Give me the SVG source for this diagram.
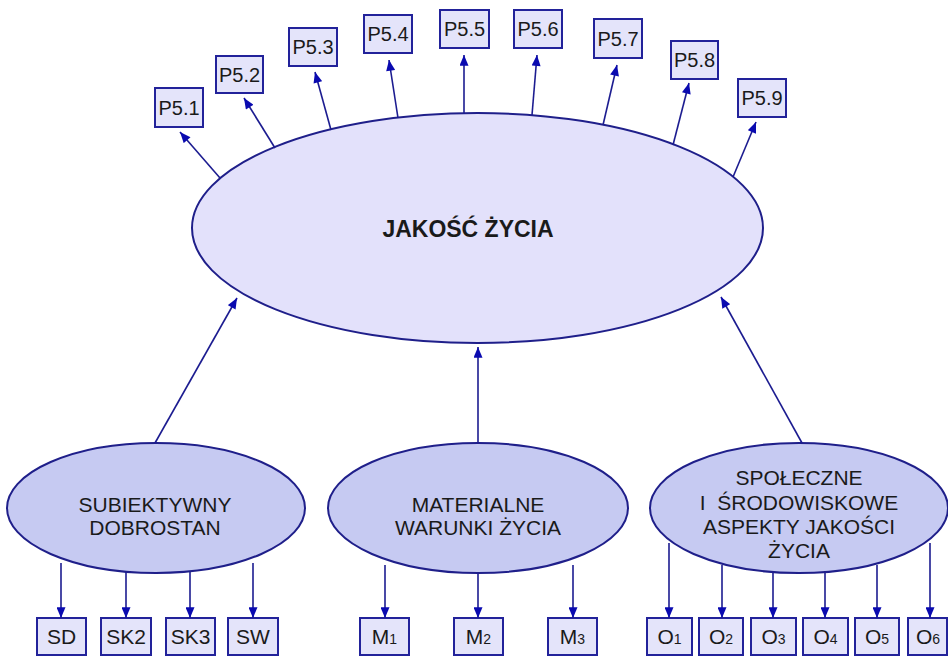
<svg xmlns="http://www.w3.org/2000/svg" width="948" height="656" viewBox="0 0 948 656">
<defs>
<style>
.main{fill:#e3e1fb;stroke:#1f1f8a;stroke-width:2}
.sub{fill:#c6caf2;stroke:#1f1f8a;stroke-width:2}
.box{fill:#e4e4fa;stroke:#22229a;stroke-width:2}
.t{font-family:"Liberation Sans",Arial,sans-serif;fill:#1a1a1a;text-anchor:middle}
.bt{font-size:20px}
.lt{font-size:21px}
.ot{font-size:21px}
.st{font-size:14px}
.c line{stroke:#1c1c90;stroke-width:1.6;marker-end:url(#ah)}
</style>
<marker id="ah" viewBox="0 0 12 10" refX="12" refY="5" markerWidth="12" markerHeight="9" markerUnits="userSpaceOnUse" orient="auto">
<path d="M0,0 L12,5 L0,10 z" fill="#0a0ab0"/>
</marker>
</defs>
<rect width="948" height="656" fill="#ffffff"/>

<g id="jakosc">
<ellipse class="main" cx="477.5" cy="228" rx="285.5" ry="115"/>
<text class="t" x="468" y="237" font-size="23" font-weight="bold">JAKOŚĆ ŻYCIA</text>
</g>

<g id="subiektywny">
<ellipse class="sub" cx="156" cy="508" rx="149" ry="65"/>
<text class="t lt" x="155" y="512">SUBIEKTYWNY</text>
<text class="t lt" x="155" y="535">DOBROSTAN</text>
</g>
<g id="materialne">
<ellipse class="sub" cx="478" cy="508" rx="150" ry="65"/>
<text class="t lt" x="478" y="512">MATERIALNE</text>
<text class="t lt" x="478" y="535">WARUNKI ŻYCIA</text>
</g>
<g id="spoleczne">
<ellipse class="sub" cx="799" cy="508" rx="149" ry="65"/>
<text class="t lt" x="799" y="485">SPOŁECZNE</text>
<text class="t lt" x="799" y="510" xml:space="preserve">I  ŚRODOWISKOWE</text>
<text class="t lt" x="799" y="534">ASPEKTY JAKOŚCI</text>
<text class="t lt" x="799" y="558">ŻYCIA</text>
</g>

<g id="p51"><rect class="box" x="155" y="88" width="48" height="39"/><text class="t bt" x="179" y="115">P5.1</text></g>
<g id="p52"><rect class="box" x="216" y="56" width="47" height="37"/><text class="t bt" x="239.5" y="82">P5.2</text></g>
<g id="p53"><rect class="box" x="289" y="28" width="48" height="38"/><text class="t bt" x="313" y="54">P5.3</text></g>
<g id="p54"><rect class="box" x="364" y="15" width="48" height="38"/><text class="t bt" x="388" y="41">P5.4</text></g>
<g id="p55"><rect class="box" x="440" y="10" width="49" height="38"/><text class="t bt" x="464.5" y="36">P5.5</text></g>
<g id="p56"><rect class="box" x="514" y="10" width="48" height="38"/><text class="t bt" x="538" y="36">P5.6</text></g>
<g id="p57"><rect class="box" x="594" y="19" width="48" height="39"/><text class="t bt" x="618" y="46">P5.7</text></g>
<g id="p58"><rect class="box" x="671" y="41" width="47" height="38"/><text class="t bt" x="694.5" y="67">P5.8</text></g>
<g id="p59"><rect class="box" x="738" y="79" width="48" height="38"/><text class="t bt" x="762" y="105">P5.9</text></g>

<g id="sd"><rect class="box" x="37" y="618" width="49" height="37"/><text class="t ot" x="61.5" y="644">SD</text></g>
<g id="sk2"><rect class="box" x="101" y="618" width="50" height="37"/><text class="t ot" x="126" y="644">SK2</text></g>
<g id="sk3"><rect class="box" x="166" y="618" width="49" height="37"/><text class="t ot" x="190.5" y="644">SK3</text></g>
<g id="sw"><rect class="box" x="228" y="618" width="50" height="37"/><text class="t ot" x="253" y="644">SW</text></g>

<g id="m1"><rect class="box" x="360" y="618" width="49" height="37"/><text class="t ot" x="384.5" y="644">M<tspan class="st">1</tspan></text></g>
<g id="m2"><rect class="box" x="454" y="618" width="49" height="37"/><text class="t ot" x="478.5" y="644">M<tspan class="st">2</tspan></text></g>
<g id="m3"><rect class="box" x="548" y="618" width="49" height="37"/><text class="t ot" x="572.5" y="644">M<tspan class="st">3</tspan></text></g>

<g id="o1"><rect class="box" x="647" y="618" width="45" height="37"/><text class="t ot" x="669.5" y="644">O<tspan class="st">1</tspan></text></g>
<g id="o2"><rect class="box" x="699" y="618" width="44" height="37"/><text class="t ot" x="721" y="644">O<tspan class="st">2</tspan></text></g>
<g id="o3"><rect class="box" x="751" y="618" width="45" height="37"/><text class="t ot" x="773.5" y="644">O<tspan class="st">3</tspan></text></g>
<g id="o4"><rect class="box" x="803" y="618" width="45" height="37"/><text class="t ot" x="825.5" y="644">O<tspan class="st">4</tspan></text></g>
<g id="o5"><rect class="box" x="855" y="618" width="44" height="37"/><text class="t ot" x="877" y="644">O<tspan class="st">5</tspan></text></g>
<g id="o6"><rect class="box" x="908" y="618" width="39" height="37"/><text class="t ot" x="928" y="644">O<tspan class="st">6</tspan></text></g>

<g id="connectors" class="c">
<line x1="220" y1="178" x2="180" y2="132"/>
<line x1="275" y1="148" x2="244" y2="98"/>
<line x1="331" y1="130" x2="315" y2="72"/>
<line x1="398" y1="118" x2="389" y2="60"/>
<line x1="464" y1="114" x2="464" y2="55"/>
<line x1="532" y1="115" x2="537" y2="55"/>
<line x1="603" y1="125" x2="617" y2="65"/>
<line x1="673" y1="145" x2="689" y2="83"/>
<line x1="733" y1="177" x2="756" y2="122"/>

<line x1="155" y1="443" x2="237" y2="298"/>
<line x1="478" y1="443" x2="478" y2="347"/>
<line x1="802" y1="443" x2="721" y2="297"/>

<line x1="61" y1="563" x2="61" y2="618"/>
<line x1="126" y1="572" x2="126" y2="618"/>
<line x1="190" y1="572" x2="190" y2="618"/>
<line x1="253" y1="563" x2="253" y2="618"/>

<line x1="385" y1="565" x2="385" y2="618"/>
<line x1="478" y1="573" x2="478" y2="618"/>
<line x1="573" y1="565" x2="573" y2="618"/>

<line x1="669" y1="543" x2="669" y2="618"/>
<line x1="722" y1="565" x2="722" y2="618"/>
<line x1="773" y1="572" x2="773" y2="618"/>
<line x1="825" y1="573" x2="825" y2="618"/>
<line x1="877" y1="565" x2="877" y2="618"/>
<line x1="930" y1="543" x2="930" y2="618"/>
</g>
</svg>
